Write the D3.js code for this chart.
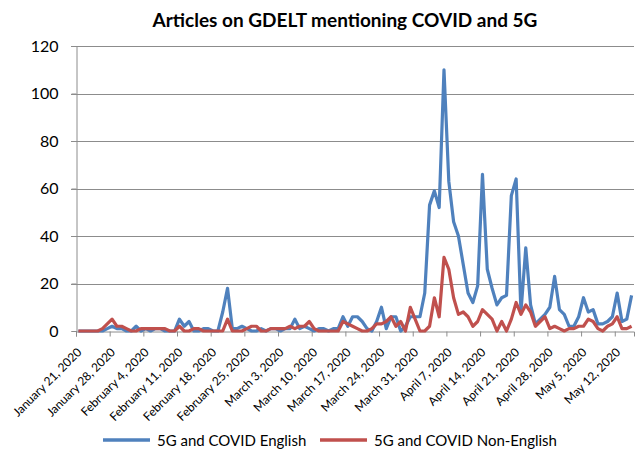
<!DOCTYPE html>
<html>
<head>
<meta charset="utf-8">
<script src="https://cdn.jsdelivr.net/npm/d3@7"></script>
<style>
  html, body { margin: 0; padding: 0; background: #ffffff; }
  svg { display: block; }
  text { font-family: Lato, "Open Sans", "Liberation Sans", sans-serif; fill: #000; }
</style>
</head>
<body>
<svg id="chart" width="636" height="453"></svg>
<script>
// ---- data ----
const chartTitle = "Articles on GDELT mentioning COVID and 5G";
const startDate = "2020-01-21";
const seriesNames = ["5G and COVID English", "5G and COVID Non-English"];
const seriesColors = ["#4F81BD", "#C0504D"];
// daily counts, Jan 21 2020 .. May 15 2020
const englishCounts = [
  0,0,0,0,0,0,1,2,1,1, 0,0,2,0,1,0,1,1,0,0,
  0,5,2,4,0,0,1,1,0,0, 8,18,1,1,2,1,0,0,1,0,
  1,1,0,1,1,5,1,2,1,0, 1,1,0,1,1,6,2,6,6,4,
  1,0,4,10,1,6,6,0,2,6, 6,6,16,53,59,52,110,63,46,40,
  28,16,12,19,66,26,18,11,14,15, 57,64,8,35,11,3,5,7,10,23,
  9,7,2,2,6,14,8,9,3,3, 4,6,16,4,5,15
];
const nonEnglishCounts = [
  0,0,0,0,0,1,3,5,2,2, 1,0,0,1,1,1,1,1,1,0,
  0,2,0,0,1,1,0,0,0,0, 0,5,0,0,0,1,2,2,0,0,
  1,1,1,1,2,1,2,2,4,1, 0,0,0,0,0,4,3,2,1,0,
  0,1,3,3,4,6,2,4,0,10, 5,0,0,2,14,6,31,26,14,7,
  8,6,2,4,9,7,5,0,4,0, 5,12,7,11,8,2,4,6,1,2,
  1,0,1,1,2,2,5,4,1,0, 2,3,6,1,1,2
];
const yTicks = [0, 20, 40, 60, 80, 100, 120];
const xTickLabels = [
  "January 21, 2020","January 28, 2020","February 4, 2020","February 11, 2020",
  "February 18, 2020","February 25, 2020","March 3, 2020","March 10, 2020",
  "March 17, 2020","March 24, 2020","March 31, 2020","April 7, 2020",
  "April 14, 2020","April 21, 2020","April 28, 2020","May 5, 2020","May 12, 2020"
];

// ---- build ----
(function () {
const parse = d3.utcParse("%Y-%m-%d");
const day0 = parse(startDate);
const dates = englishCounts.map((_, i) => d3.utcDay.offset(day0, i));
const rows = dates.map((d, i) => ({ date: d, en: englishCounts[i], ne: nonEnglishCounts[i] }));
const tickDates = xTickLabels.map((_, i) => d3.utcDay.offset(day0, i * 7));

const svg = d3.select("#chart");
const plotL = 76, plotR = 634, plotT = 46, plotB = 331;

const x = d3.scaleUtc()
  .domain([day0, d3.utcDay.offset(day0, englishCounts.length)])
  .range([plotL, plotR]);
const mid = d => x(d3.utcHour.offset(d, 12));
const y = d3.scaleLinear().domain([0, 120]).range([plotB, plotT]);

// gridlines
svg.append("g").selectAll("line").data(yTicks.filter(v => v > 0)).join("line")
  .attr("x1", plotL - 5).attr("x2", plotR)
  .attr("y1", d => Math.round(y(d)) + 0.5).attr("y2", d => Math.round(y(d)) + 0.5)
  .attr("stroke", "#8c8c8c").attr("stroke-width", 1);

// y axis
const yAxis = svg.append("g").attr("transform", `translate(${plotL + 0.5},0)`)
  .call(d3.axisLeft(y).tickValues(yTicks).tickSize(5).tickPadding(13));
yAxis.select(".domain").attr("stroke", "#8c8c8c");
yAxis.selectAll(".tick line").attr("stroke", "#8c8c8c");
yAxis.selectAll(".tick text").attr("font-size", 16).attr("font-family", "Lato, sans-serif");

// x axis
const xAxis = svg.append("g").attr("transform", `translate(0,${plotB + 0.5})`)
  .call(d3.axisBottom(x).tickValues(tickDates).tickSize(5).tickFormat(""));
xAxis.select(".domain").attr("stroke", "#8c8c8c");
xAxis.selectAll(".tick line").attr("stroke", "#8c8c8c");

svg.append("g").selectAll("text").data(tickDates).join("text")
  .attr("transform", (d) => `translate(${mid(d) + 1},${plotB + 19}) rotate(-45)`)
  .attr("text-anchor", "end").attr("dy", "0.35em")
  .attr("font-size", 12)
  .text((d, i) => xTickLabels[i]);

// lines
const keys = ["en", "ne"];
keys.forEach((k, idx) => {
  svg.append("path").datum(rows)
    .attr("fill", "none")
    .attr("stroke", seriesColors[idx])
    .attr("stroke-width", 3.2)
    .attr("stroke-linejoin", "round")
    .attr("d", d3.line().x(d => mid(d.date)).y(d => y(d[k])));
});

// title
svg.append("text").attr("x", 345).attr("y", 27).attr("text-anchor", "middle")
  .attr("font-size", 19).attr("font-weight", "bold").text(chartTitle);

// legend
const legendX = [103, 320];
seriesNames.forEach((name, i) => {
  const g = svg.append("g");
  g.append("line").attr("x1", legendX[i]).attr("x2", legendX[i] + 47)
    .attr("y1", 440).attr("y2", 440)
    .attr("stroke", seriesColors[i]).attr("stroke-width", 3.5);
  g.append("text").attr("x", legendX[i] + 54).attr("y", 445.5)
    .attr("font-size", 15).text(name);
});
})();
</script>
</body>
</html>
